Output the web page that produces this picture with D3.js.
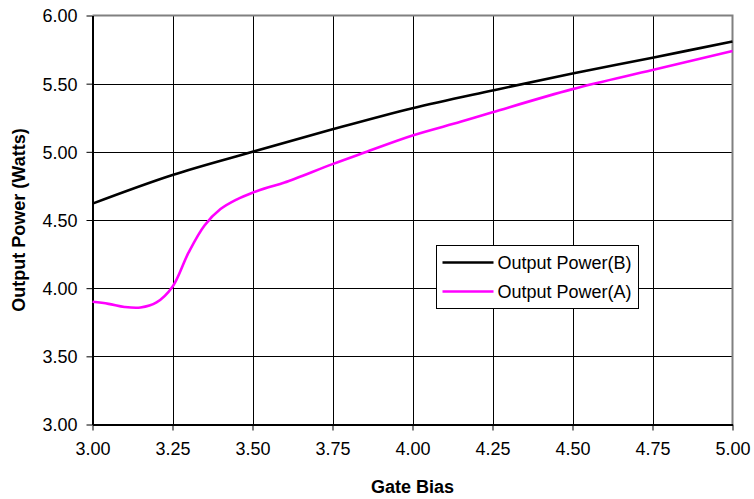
<!DOCTYPE html>
<html>
<head>
<meta charset="utf-8">
<script src="https://cdn.jsdelivr.net/npm/d3@7"></script>
<style>
  html, body { margin: 0; padding: 0; background: #fff; }
  svg { display: block; font-family: Arial, "Liberation Sans", sans-serif; }
</style>
</head>
<body>
<svg id="chart" width="754" height="499"></svg>
<script>
// Gate bias (x) and output power (W) for each series
const biasB = [3.00, 3.25, 3.50, 3.75, 4.00, 4.25, 4.50, 4.75, 5.00];
const powerB = [4.62, 4.83, 5.00, 5.165, 5.32, 5.45, 5.575, 5.69, 5.81];

const biasA = [3.00, 3.05, 3.10, 3.15, 3.20, 3.25, 3.30, 3.35, 3.40, 3.45, 3.50, 3.55, 3.60, 3.75, 3.85, 4.00, 4.15, 4.25, 4.50, 4.75, 5.00];
const powerA = [3.90, 3.885, 3.862, 3.858, 3.895, 4.01, 4.26, 4.46, 4.58, 4.65, 4.70, 4.74, 4.775, 4.91, 4.995, 5.12, 5.22, 5.29, 5.46, 5.60, 5.74];

const xTicks = [3.00, 3.25, 3.50, 3.75, 4.00, 4.25, 4.50, 4.75, 5.00];
const yTicks = [3.00, 3.50, 4.00, 4.50, 5.00, 5.50, 6.00];

const seriesNames = ["Output Power(B)", "Output Power(A)"];
const seriesColors = ["#000000", "#FF00FF"];

const svg = d3.select("#chart");
const plotL = 92.5, plotR = 732.5, plotT = 15.5, plotB = 424.5;

const x = d3.scaleLinear().domain([3, 5]).range([plotL, plotR]);
const y = d3.scaleLinear().domain([3, 6]).range([plotB, plotT]);

// gridlines
const grid = svg.append("g").attr("stroke", "#000").attr("stroke-width", 1).attr("shape-rendering", "crispEdges");
grid.selectAll("line.v").data(xTicks.slice(1, -1)).join("line")
  .attr("x1", d => Math.round(x(d)) + 0.5).attr("x2", d => Math.round(x(d)) + 0.5)
  .attr("y1", plotT).attr("y2", plotB);
grid.selectAll("line.h").data(yTicks.slice(1, -1)).join("line")
  .attr("y1", d => Math.round(y(d)) + 0.5).attr("y2", d => Math.round(y(d)) + 0.5)
  .attr("x1", plotL).attr("x2", plotR);

// plot frame: grey top/right
svg.append("path")
  .attr("d", `M${plotL},${plotT}H${plotR}V${plotB}`)
  .attr("fill", "none").attr("stroke", "#808080").attr("stroke-width", 2);

// axes
const fmt = d3.format(".2f");
const xAxis = svg.append("g").attr("transform", `translate(0,${plotB})`)
  .call(d3.axisBottom(x).tickValues(xTicks).tickFormat(fmt).tickSizeInner(6).tickSizeOuter(0).tickPadding(12));
const yAxis = svg.append("g").attr("transform", `translate(${plotL},0)`)
  .call(d3.axisLeft(y).tickValues(yTicks).tickFormat(fmt).tickSizeInner(6).tickSizeOuter(0).tickPadding(9));
[xAxis, yAxis].forEach(g => {
  g.select(".domain").attr("stroke", "#000").attr("stroke-width", 2);
  g.selectAll(".tick line").attr("stroke", "#000").attr("stroke-width", 1);
  g.selectAll(".tick text").attr("fill", "#000").style("font-size", "18px")
    .style("font-family", "Arial, 'Liberation Sans', sans-serif");
});
yAxis.selectAll(".tick text").attr("dy", "0.36em");

// series lines (smoothed)
const line = d3.line().x(d => x(d[0])).y(d => y(d[1])).curve(d3.curveCatmullRom.alpha(0.5));
svg.append("path")
  .datum(biasB.map((b, i) => [b, powerB[i]]))
  .attr("d", line).attr("fill", "none")
  .attr("stroke", seriesColors[0]).attr("stroke-width", 2.6);
svg.append("path")
  .datum(biasA.map((b, i) => [b, powerA[i]]))
  .attr("d", line).attr("fill", "none")
  .attr("stroke", seriesColors[1]).attr("stroke-width", 2.6);

// axis titles
svg.append("text").attr("x", (plotL + plotR) / 2).attr("y", 493)
  .attr("text-anchor", "middle").style("font-size", "18px").style("font-weight", "bold")
  .text("Gate Bias");
svg.append("text").attr("transform", `translate(25,${(plotT + plotB) / 2}) rotate(-90)`)
  .attr("text-anchor", "middle").style("font-size", "18px").style("font-weight", "bold")
  .text("Output Power (Watts)");

// legend
const lg = svg.append("g").attr("transform", "translate(436.5,245.5)");
lg.append("rect").attr("width", 202).attr("height", 63)
  .attr("fill", "#fff").attr("stroke", "#000").attr("stroke-width", 1);
seriesNames.forEach((name, i) => {
  const cy = 17 + i * 29;
  lg.append("line").attr("x1", 6).attr("x2", 57).attr("y1", cy).attr("y2", cy)
    .attr("stroke", seriesColors[i]).attr("stroke-width", 2.6);
  lg.append("text").attr("x", 61).attr("y", cy).attr("dy", "0.36em")
    .style("font-size", "18px").text(name);
});
</script>
</body>
</html>
